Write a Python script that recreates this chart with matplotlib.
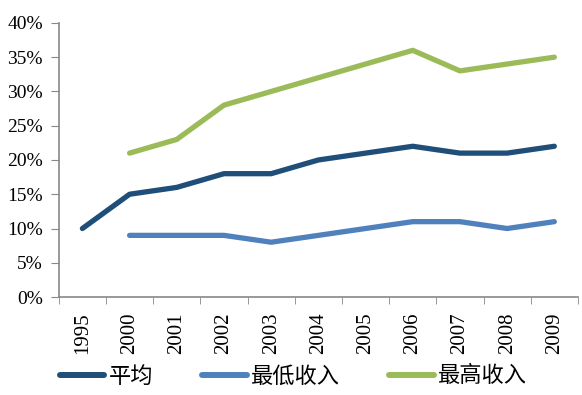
import numpy as np
import matplotlib.pyplot as plt
from matplotlib.ticker import FuncFormatter

plt.rcParams['font.family'] = ['Liberation Serif', 'Noto Sans CJK SC', 'DejaVu Sans']

years = ['1995', '2000', '2001', '2002', '2003', '2004', '2005', '2006', '2007', '2008', '2009']
avg = [10, 15, 16, 18, 18, 20, 21, 22, 21, 21, 22]
low = [np.nan, 9, 9, 9, 8, 9, 10, 11, 11, 10, 11]
high = [np.nan, 21, 23, 28, 30, 32, 34, 36, 33, 34, 35]

labels = ['平均', '最低收入', '最高收入']
colors = ['#1F4E79', '#4F81BD', '#9BBB59']

fig = plt.figure(figsize=(5.82, 3.95), dpi=100)
ax = fig.add_axes([0.101, 0.248, 0.892, 0.694])

x = np.arange(len(years))
for vals, lab, c in zip([avg, low, high], labels, colors):
    ax.plot(x, vals, color=c, lw=3.8, label=lab, solid_capstyle='round')

ax.set_xlim(-0.5, len(years) - 0.5)
ax.set_ylim(0, 40)
ax.set_yticks(np.arange(0, 41, 5))
ax.yaxis.set_major_formatter(FuncFormatter(lambda v, p: f'{v:.0f}%'))
ax.set_xticks(x)
ax.set_xticklabels(years, rotation=90)
ax.set_xticks(np.arange(-0.5, len(years)), minor=True)
ax.tick_params(axis='x', which='major', length=0, pad=11, labelsize=15)
ax.tick_params(axis='x', which='minor', length=5, color='#888888', direction='out')
ax.tick_params(axis='y', length=5.5, color='#888888', labelsize=14, pad=6)

for s in ['top', 'right']:
    ax.spines[s].set_visible(False)
for s in ['left', 'bottom']:
    ax.spines[s].set_color('#888888')
    ax.spines[s].set_linewidth(1.2)

# legend along the bottom, thick round-capped keys
leg = fig.legend(loc='center left', bbox_to_anchor=(60 / 582, 1 - 376 / 395), ncol=3, frameon=False,
                 prop={'family': ['Noto Sans CJK SC'], 'size': 16},
                 handlelength=2.0, columnspacing=2.2, handletextpad=0.2,
                 borderpad=0, borderaxespad=0)
for line in leg.get_lines():
    line.set_linewidth(4.3)
    line.set_solid_capstyle('round')

fig.savefig('out.png', dpi=100)
